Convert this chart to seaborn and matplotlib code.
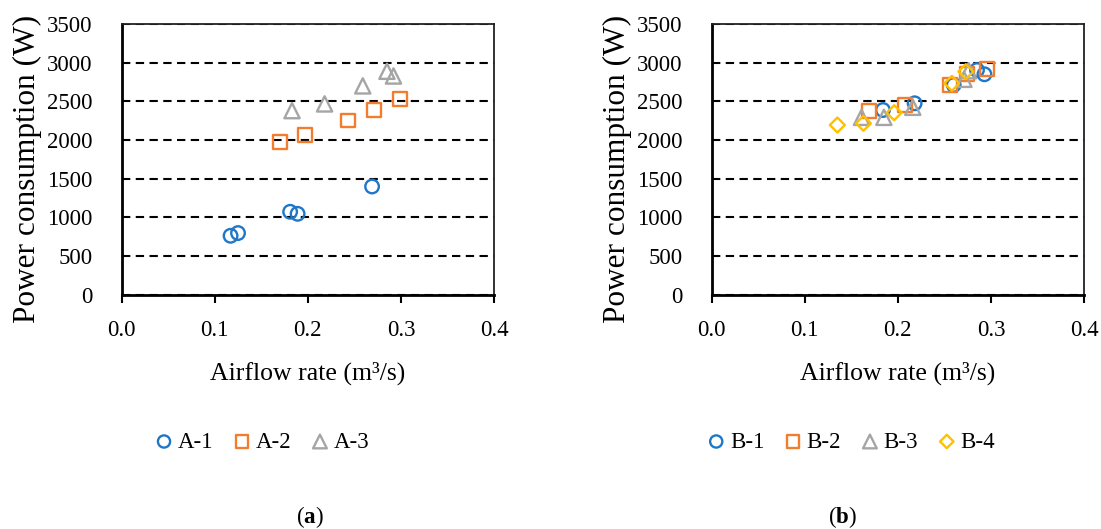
import matplotlib
matplotlib.use("Agg")
import matplotlib.pyplot as plt
import seaborn as sns

# Panel (a): airflow rate (m3/s) and power consumption (W)
a1_flow = [0.117, 0.125, 0.181, 0.189, 0.269]
a1_power = [762, 797, 1072, 1046, 1399]
a2_flow = [0.170, 0.197, 0.243, 0.271, 0.299]
a2_power = [1980, 2066, 2252, 2385, 2527]
a3_flow = [0.183, 0.218, 0.259, 0.285, 0.292]
a3_power = [2380, 2467, 2700, 2889, 2828]

# Panel (b)
b1_flow = [0.184, 0.218, 0.260, 0.285, 0.293]
b1_power = [2388, 2475, 2712, 2905, 2850]
b2_flow = [0.169, 0.208, 0.256, 0.274, 0.296]
b2_power = [2380, 2452, 2712, 2850, 2918]
b3_flow = [0.161, 0.185, 0.216, 0.271, 0.276]
b3_power = [2293, 2293, 2423, 2785, 2896]
b4_flow = [0.135, 0.163, 0.196, 0.258, 0.273]
b4_power = [2194, 2216, 2353, 2733, 2884]

x_ticks = [0.0, 0.1, 0.2, 0.3, 0.4]
y_ticks = [0, 500, 1000, 1500, 2000, 2500, 3000, 3500]

BLUE, ORANGE, GREY, GOLD = "#1F77C8", "#F27D2E", "#A5A5A5", "#FFC000"
MARKERS = {"o": 95, "s": 100, "^": 120, "D": 58}

sns.set_theme(style="white")
plt.rcParams["font.family"] = ["Liberation Serif", "DejaVu Serif"]
plt.rcParams["text.color"] = "black"
plt.rcParams["axes.labelcolor"] = "black"
plt.rcParams["mathtext.fontset"] = "custom"
plt.rcParams["mathtext.rm"] = "Liberation Serif"
plt.rcParams["mathtext.bf"] = "Liberation Serif:bold"

fig = plt.figure(figsize=(11.01, 5.29), dpi=100)
ax_a = fig.add_axes([0.1105, 0.4429, 0.3382, 0.5117])
ax_b = fig.add_axes([0.6464, 0.4429, 0.3382, 0.5117])


def draw_series(ax, flow, power, marker, color, name):
    sns.scatterplot(x=flow, y=power, marker=marker, s=MARKERS[marker],
                    color=color, facecolor="none", edgecolor=color,
                    linewidth=1.7, label=name, ax=ax, legend=False, zorder=3)


def style_axes(ax):
    ax.set_xlim(0, 0.4)
    ax.set_ylim(0, 3500)
    ax.set_xticks(x_ticks)
    ax.set_xticklabels([f"{t:.1f}" for t in x_ticks])
    ax.set_yticks(y_ticks)
    ax.set_yticklabels([str(t) for t in y_ticks])
    ax.yaxis.grid(True, color="black", linewidth=1.5, linestyle=(0, (4, 2.6)))
    ax.xaxis.grid(False)
    ax.set_axisbelow(True)
    for side in ("left", "bottom"):
        ax.spines[side].set_color("black")
        ax.spines[side].set_linewidth(2.0)
    for side in ("top", "right"):
        ax.spines[side].set_color("#222222")
        ax.spines[side].set_linewidth(1.3)
    ax.tick_params(axis="x", bottom=True, length=6, width=1.5, color="black",
                   direction="out", pad=12, labelsize=16.5, labelcolor="black")
    ax.tick_params(axis="y", left=False, length=0, pad=21, labelsize=16.5,
                   labelcolor="black")
    ax.set_xlabel("Airflow rate (m³/s)", fontsize=18.5, color="black")
    ax.set_ylabel("Power consumption (W)", fontsize=22.5, color="black")
    ax.xaxis.set_label_coords(0.5, -0.289)
    ax.xaxis.label.set_va("center")
    ax.yaxis.set_label_coords(-0.254, 0.464)
    ax.yaxis.label.set_va("center")


draw_series(ax_a, a1_flow, a1_power, "o", BLUE, "A-1")
draw_series(ax_a, a2_flow, a2_power, "s", ORANGE, "A-2")
draw_series(ax_a, a3_flow, a3_power, "^", GREY, "A-3")

draw_series(ax_b, b1_flow, b1_power, "o", BLUE, "B-1")
draw_series(ax_b, b2_flow, b2_power, "s", ORANGE, "B-2")
draw_series(ax_b, b3_flow, b3_power, "^", GREY, "B-3")
draw_series(ax_b, b4_flow, b4_power, "D", GOLD, "B-4")

for ax in (ax_a, ax_b):
    style_axes(ax)

leg_kw = dict(loc="center", frameon=False, fontsize=16.5, handletextpad=0.1,
              columnspacing=0.75, handlelength=1.0, markerscale=0.9,
              borderaxespad=0, labelcolor="black")
h, l = ax_a.get_legend_handles_labels()
fig.legend(h, l, ncol=3, bbox_to_anchor=(0.237, 0.1645), **leg_kw)
h, l = ax_b.get_legend_handles_labels()
fig.legend(h, l, ncol=4, bbox_to_anchor=(0.772, 0.1645), **leg_kw)

fig.text(0.2816, 0.023, r"($\mathbf{a}$)", ha="center", va="center", fontsize=16.5)
fig.text(0.7656, 0.023, r"($\mathbf{b}$)", ha="center", va="center", fontsize=16.5)

fig.savefig("out.png", dpi=100, facecolor="white")
